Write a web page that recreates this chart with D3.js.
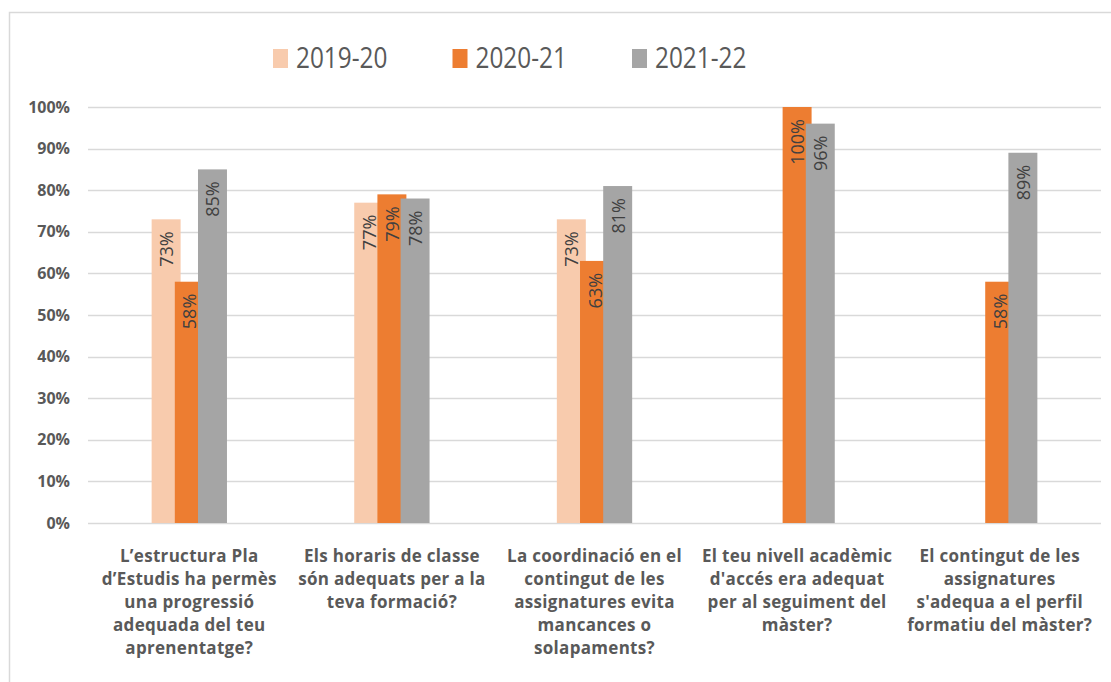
<!DOCTYPE html>
<html>
<head>
<meta charset="utf-8">
<script src="https://cdn.jsdelivr.net/npm/d3@7"></script>
<style>
  body { margin: 0; background: #fff; }
  svg { display: block; font-family: "Open Sans", sans-serif; }
</style>
</head>
<body>
<svg></svg>
<script>
'use strict'

const WIDTH = 1111;
const HEIGHT = 682;

const series = ['2019-20', '2020-21', '2021-22'];
const colors = ['#F8CBAD', '#ED7D31', '#A5A5A5'];

// category labels, already split in lines like the original
const categories = [
  ['L\u2019estructura Pla', 'd\u2019Estudis  ha permès', 'una progressió', 'adequada del teu', 'aprenentatge?'],
  ['Els horaris de classe', 'són adequats per a la', 'teva formació?'],
  ['La coordinació en el', 'contingut de les', 'assignatures evita', 'mancances o', 'solapaments?'],
  ['El teu nivell acadèmic', 'd\'accés era adequat', 'per al seguiment del', 'màster?'],
  ['El contingut de les', 'assignatures', 's\'adequa a el perfil', 'formatiu del màster?']
];

const values2019 = [0.73, 0.77, 0.73, null, null];
const values2020 = [0.58, 0.79, 0.63, 1.00, 0.58];
const values2021 = [0.85, 0.78, 0.81, 0.96, 0.89];

const yTicks = [0, 0.1, 0.2, 0.3, 0.4, 0.5, 0.6, 0.7, 0.8, 0.9, 1.0];

const svg = d3.select('svg')
  .attr('width', WIDTH)
  .attr('height', HEIGHT);

// chart frame (left + top edges visible)
svg.append('path')
  .attr('d', 'M9.5,' + HEIGHT + 'V12.5H' + WIDTH)
  .attr('fill', 'none')
  .attr('stroke', '#d9d9d9')
  .attr('stroke-width', 1.5);

const plot = { left: 88, right: 1101, top: 107, bottom: 523 };

let yScale = d3.scaleLinear()
  .domain([0, 1])
  .range([plot.bottom, plot.top]);

let xScale = d3.scaleBand()
  .domain(d3.range(categories.length))
  .range([plot.left, plot.right]);

const barWidth = xScale.bandwidth() * 0.143;
const barStep = barWidth * 0.8;
let seriesScale = d3.scalePoint()
  .domain(series)
  .range([-barStep, barStep]);

// gridlines
svg.append('g')
  .selectAll('line')
  .data(yTicks)
  .enter().append('line')
  .attr('x1', plot.left)
  .attr('x2', plot.right)
  .attr('y1', d => Math.round(yScale(d)) + 0.5)
  .attr('y2', d => Math.round(yScale(d)) + 0.5)
  .attr('stroke', '#d9d9d9')
  .attr('stroke-width', 1.5);

// y axis labels
let leftAxis = d3.axisLeft(yScale)
  .tickValues(yTicks)
  .tickFormat(d3.format('.0%'))
  .tickSize(0)
  .tickPadding(0);
const yAxis = svg.append('g')
  .attr('transform', 'translate(70,0)')
  .call(leftAxis);
yAxis.select('.domain').remove();
yAxis.selectAll('text')
  .attr('font-family', '"Open Sans", sans-serif')
  .attr('font-size', 16)
  .attr('font-weight', 'bold')
  .attr('fill', '#595959');

// bars
const allValues = [values2019, values2020, values2021];
const barData = [];
series.forEach((s, si) => {
  allValues[si].forEach((v, ci) => {
    if (v !== null) barData.push({ series: s, si: si, ci: ci, value: v });
  });
});

const cx = d => xScale(d.ci) + xScale.bandwidth() / 2 + seriesScale(d.series);

svg.append('g')
  .selectAll('rect')
  .data(barData)
  .enter().append('rect')
  .attr('x', d => cx(d) - barWidth / 2)
  .attr('y', d => yScale(d.value))
  .attr('width', barWidth)
  .attr('height', d => plot.bottom - yScale(d.value))
  .attr('fill', d => colors[d.si]);

// data labels, rotated inside end
svg.append('g')
  .selectAll('text')
  .data(barData)
  .enter().append('text')
  .attr('transform', d => 'translate(' + cx(d) + ',' + (yScale(d.value) + 12) + ') rotate(-90)')
  .attr('text-anchor', 'end')
  .attr('dominant-baseline', 'central')
  .attr('font-size', 18)
  .attr('fill', '#404040')
  .text(d => d3.format('.0%')(d.value));

// category labels
const catG = svg.append('g')
  .selectAll('text')
  .data(categories)
  .enter().append('text')
  .attr('text-anchor', 'middle')
  .attr('font-size', 17)
  .attr('font-weight', 'bold')
  .attr('letter-spacing', 0.3)
  .attr('fill', '#595959');
catG.selectAll('tspan')
  .data((d, i) => d.map(line => ({ line: line, i: i })))
  .enter().append('tspan')
  .attr('x', d => xScale(d.i) + xScale.bandwidth() / 2)
  .attr('y', (d, j) => 562 + j * 23)
  .text(d => d.line);

// legend
const legend = svg.append('g')
  .selectAll('g')
  .data(series)
  .enter().append('g')
  .attr('transform', (d, i) => 'translate(' + (273 + i * 179.5) + ',49)');
legend.append('rect')
  .attr('width', 15)
  .attr('height', 19)
  .attr('fill', (d, i) => colors[i]);
legend.append('text')
  .attr('transform', 'translate(23,19) scale(0.84,1)')
  .attr('font-size', 29)
  .attr('fill', '#595959')
  .text(d => d);
</script>
</body>
</html>
